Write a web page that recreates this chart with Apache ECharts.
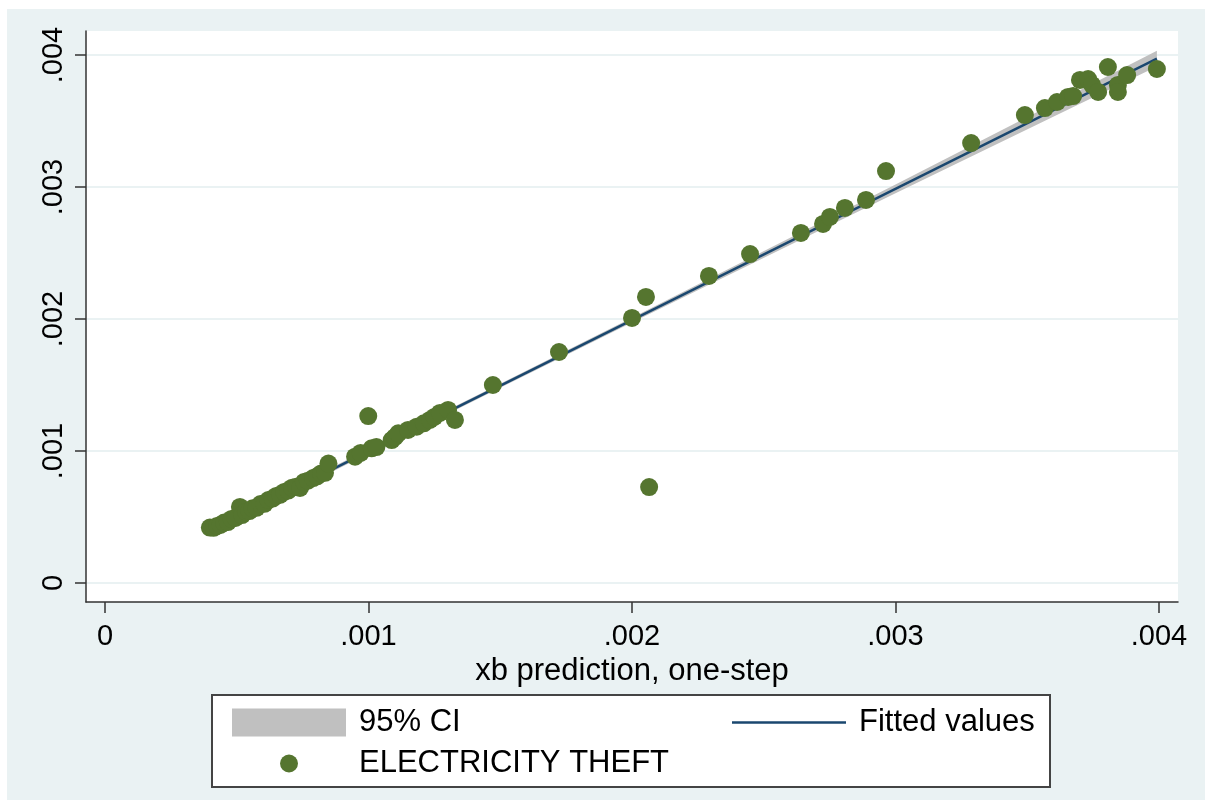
<!DOCTYPE html>
<html>
<head>
<meta charset="utf-8">
<script src="https://cdn.jsdelivr.net/npm/echarts@6/dist/echarts.min.js"></script>
<style>
html,body{margin:0;padding:0;background:#fff;}
#chart{position:absolute;left:7px;top:9px;width:1198px;height:791px;}
</style>
</head>
<body>
<div id="chart"></div>
<script>
// scatter: xb prediction (x) vs electricity theft (y)
var theftX = [
    0.000398, 0.000412, 0.000425, 0.000438, 0.000452, 0.000466, 0.000480, 0.000495,
    0.000512, 0.000520, 0.000535, 0.000548, 0.000560, 0.000575, 0.000590, 0.000605,
    0.000620, 0.000636, 0.000650, 0.000664, 0.000680, 0.000695, 0.000710, 0.000725,
    0.000740, 0.000755, 0.000770, 0.000790, 0.000805, 0.000820, 0.000835, 0.000848,
    0.000949, 0.000970, 0.000999, 0.001012, 0.001030, 0.001088, 0.001100, 0.001113,
    0.001150, 0.001183, 0.001210, 0.001233, 0.001250, 0.001271, 0.001302, 0.001328,
    0.001472, 0.001723, 0.002000, 0.002053, 0.002065, 0.002292, 0.002448, 0.002641,
    0.002725, 0.002751, 0.002808, 0.002888, 0.002964, 0.003287, 0.003491, 0.003567,
    0.003613, 0.003655, 0.003674, 0.003700, 0.003731, 0.003746, 0.003769, 0.003806,
    0.003844, 0.003844, 0.003879, 0.003992
];
var theftY = [
    0.000420, 0.000418, 0.000432, 0.000440, 0.000458, 0.000462, 0.000485, 0.000493,
    0.000576, 0.000515, 0.000540, 0.000545, 0.000566, 0.000570, 0.000598, 0.000600,
    0.000628, 0.000640, 0.000660, 0.000668, 0.000690, 0.000700, 0.000722, 0.000730,
    0.000720, 0.000765, 0.000775, 0.000795, 0.000808, 0.000830, 0.000835, 0.000905,
    0.000957, 0.000985, 0.001265, 0.001020, 0.001030, 0.001083, 0.001105, 0.001134,
    0.001160, 0.001184, 0.001210, 0.001235, 0.001258, 0.001288, 0.001311, 0.001235,
    0.001500, 0.001750, 0.002008, 0.002167, 0.000727, 0.002326, 0.002492, 0.002652,
    0.002720, 0.002773, 0.002841, 0.002902, 0.003121, 0.003333, 0.003545, 0.003598,
    0.003644, 0.003682, 0.003689, 0.003811, 0.003818, 0.003773, 0.003720, 0.003909,
    0.003773, 0.003720, 0.003848, 0.003894
];

// fitted line and its 95% band
var fitX = [0.000398, 0.003992];
var fitY = [0.000398, 0.003972];
var ciX  = [0.000398, 0.001000, 0.001500, 0.002000, 0.003000, 0.003992];
var ciLo = [0.000376, 0.000981, 0.001479, 0.001973, 0.002953, 0.003912];
var ciHi = [0.000420, 0.001013, 0.001509, 0.002009, 0.003019, 0.004032];

var tickValues = [0, 0.001, 0.002, 0.003, 0.004];

var OX = 7, OY = 9;   // chart div offset in the page
var FONT = 'Liberation Sans, Arial, sans-serif';

function fmtTick(v) {
    if (v === 0) return '0';
    return v.toFixed(3).replace(/^0/, '');
}

var scatterData = [];
for (var i = 0; i < theftX.length; i++) scatterData.push([theftX[i], theftY[i]]);
var fitData = [];
for (var j = 0; j < fitX.length; j++) fitData.push([fitX[j], fitY[j]]);

var legendText = { fontSize: 31, color: '#000', fontFamily: FONT, padding: [0, 0, 0, 8] };

var myChart = echarts.init(document.getElementById('chart'));
var option = {
    backgroundColor: '#EAF2F3',
    animation: false,
    textStyle: { fontFamily: FONT },
    grid: {
        left: 86 - OX,
        top: 31 - OY,
        width: 1092,
        height: 571,
        show: true,
        backgroundColor: '#fff',
        borderWidth: 0
    },
    xAxis: {
        type: 'value',
        min: -0.0000721,
        max: 0.0040721,
        name: 'xb prediction, one-step',
        nameLocation: 'middle',
        nameGap: 41,
        nameTextStyle: { fontSize: 31, color: '#000', fontFamily: FONT },
        axisLine: { onZero: false, lineStyle: { color: '#333', width: 1.5 } },
        axisTick: { customValues: tickValues, length: 11, lineStyle: { color: '#333', width: 1.5 } },
        axisLabel: { customValues: tickValues, formatter: fmtTick, fontSize: 29, color: '#000', margin: 20, fontFamily: FONT },
        splitLine: { show: false }
    },
    yAxis: {
        type: 'value',
        min: -0.0001439,
        max: 0.0041818,
        axisLine: { show: true, onZero: false, lineStyle: { color: '#333', width: 1.5 } },
        axisTick: { show: true, customValues: tickValues, length: 11, lineStyle: { color: '#333', width: 1.5 } },
        axisLabel: { customValues: tickValues, formatter: fmtTick, fontSize: 29, color: '#000', rotate: 90, margin: 18, fontFamily: FONT },
        splitLine: { show: true, lineStyle: { color: '#EAF2F3', width: 2 } }
    },
    legend: [{
        data: [{ name: '95% CI', icon: 'rect', itemStyle: { color: '#C0C0C0' } }],
        left: 227 - OX, top: 702 - OY,
        itemWidth: 114, itemHeight: 28,
        textStyle: legendText,
        selectedMode: false
    }, {
        data: [{ name: 'Fitted values', icon: 'rect', itemStyle: { color: '#1A476F' } }],
        left: 727 - OX, top: 702 - OY,
        itemWidth: 114, itemHeight: 2.5,
        textStyle: legendText,
        selectedMode: false
    }, {
        data: [{ name: 'ELECTRICITY THEFT', icon: 'circle' }],
        left: 275 - OX, top: 743 - OY,
        itemWidth: 18, itemHeight: 18,
        textStyle: { fontSize: 31, color: '#000', fontFamily: FONT, padding: [0, 0, 0, 56] },
        selectedMode: false
    }],
    graphic: [{
        type: 'rect',
        z: 1,
        shape: { x: 212 - OX, y: 695 - OY, width: 838, height: 92 },
        style: { fill: '#fff', stroke: '#444', lineWidth: 2 }
    }],
    series: [{
        name: '95% CI',
        type: 'custom',
        z: 1,
        clip: true,
        itemStyle: { color: '#C0C0C0' },
        data: [0],
        renderItem: function (params, api) {
            var pts = [];
            for (var k = 0; k < ciX.length; k++) pts.push(api.coord([ciX[k], ciHi[k]]));
            for (var m = ciX.length - 1; m >= 0; m--) pts.push(api.coord([ciX[m], ciLo[m]]));
            return { type: 'polygon', shape: { points: pts }, style: { fill: '#C0C0C0' } };
        }
    }, {
        name: 'Fitted values',
        type: 'line',
        z: 2,
        symbol: 'none',
        data: fitData,
        lineStyle: { color: '#1A476F', width: 2.5 },
        itemStyle: { color: '#1A476F' }
    }, {
        name: 'ELECTRICITY THEFT',
        type: 'scatter',
        z: 3,
        symbolSize: 18,
        data: scatterData,
        itemStyle: { color: '#55752F', opacity: 1 }
    }]
};
myChart.setOption(option);
</script>
</body>
</html>
